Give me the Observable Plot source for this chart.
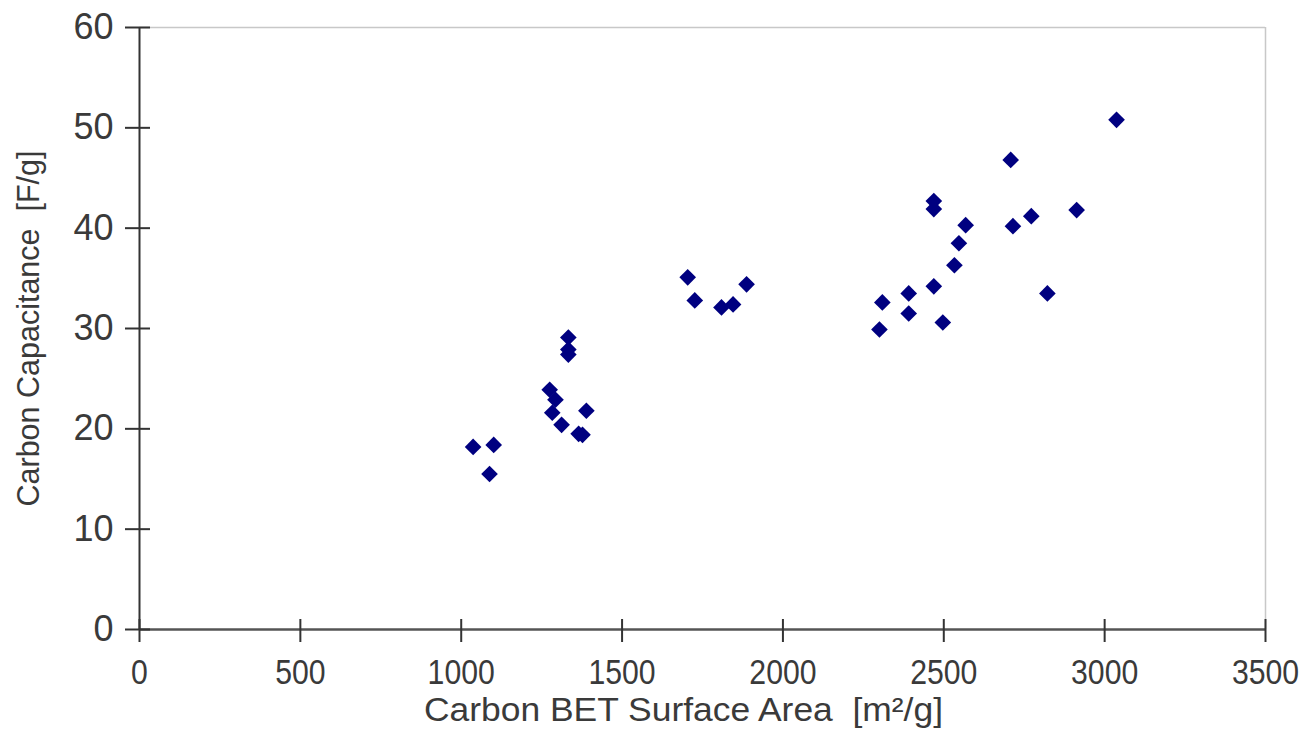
<!DOCTYPE html>
<html><head><meta charset="utf-8">
<script src="https://cdn.jsdelivr.net/npm/d3@7"></script>
<script src="https://cdn.jsdelivr.net/npm/@observablehq/plot@0.6"></script>
<style>body{margin:0;background:#fff}</style>
</head><body><div id="chart"></div>
<script>
const surfaceArea = [1037, 1101, 1088, 1333, 1333, 1333, 1275, 1293, 1283, 1312, 1389, 1365, 1377,
  1704, 1726, 1809, 1845, 1887, 2309, 2300, 2391, 2391, 2469, 2469, 2568, 2547, 2533, 2469, 2497,
  2715, 2772, 2913, 2822, 2708, 3037];
const capacitance = [18.2, 18.4, 15.5, 29.1, 27.9, 27.4, 23.9, 22.9, 21.6, 20.4, 21.8, 19.5, 19.4,
  35.1, 32.8, 32.1, 32.4, 34.4, 32.6, 29.9, 33.5, 31.5, 42.7, 41.9, 40.3, 38.5, 36.3, 34.2, 30.6,
  40.2, 41.2, 41.8, 33.5, 46.8, 50.8];
const xTicks = [0, 500, 1000, 1500, 2000, 2500, 3000, 3500];
const yTicks = [0, 10, 20, 30, 40, 50, 60];
const xTitle = "Carbon BET Surface Area  [m²/g]";
const yTitle = "Carbon Capacitance  [F/g]";

const data = surfaceArea.map((x, i) => ({x, y: capacitance[i]}));

const chart = Plot.plot({
  width: 1316, height: 755,
  marginLeft: 139, marginRight: 51, marginTop: 27, marginBottom: 126,
  style: {fontFamily: "'Liberation Sans', Arial, sans-serif", fontSize: "30px", color: "#3a3a3a", background: "#fff"},
  x: {domain: [0, 3500]},
  y: {domain: [0, 60]},
  marks: [
    Plot.ruleY([60], {stroke: "#c8c8c8", strokeWidth: 1.5}),
    Plot.ruleX([3500], {stroke: "#c8c8c8", strokeWidth: 1.5}),
    Plot.ruleY([0], {stroke: "#555", strokeWidth: 2.5}),
    Plot.ruleX([0], {stroke: "#333", strokeWidth: 2}),
    Plot.axisX({ticks: xTicks, tickSize: 23, dy: -10, tickFormat: () => "", stroke: "#333", strokeWidth: 2, label: null}),
    Plot.axisX({ticks: xTicks, tickSize: 0, tickPadding: 30, tickFormat: d => String(d), fill: "#3a3a3a", fontSize: 35, label: null, className: "xlab"}),
    Plot.axisY({ticks: yTicks, tickSize: 25, dx: 11, tickFormat: () => "", stroke: "#333", strokeWidth: 2, label: null}),
    Plot.axisY({ticks: yTicks, tickSize: 0, tickPadding: 26, tickFormat: d => String(d), fill: "#3a3a3a", fontSize: 36, label: null}),
    Plot.dot(data, {x: "x", y: "y", symbol: "diamond2", r: 7.5, fill: "#000080", stroke: null}),
    Plot.text([xTitle], {text: d => d, frameAnchor: "bottom", dy: 67, dx: -19, lineAnchor: "top", fontSize: 34, fill: "#3a3a3a", className: "xtitle"}),
    Plot.text([yTitle], {text: d => d, frameAnchor: "left", rotate: -90, dx: -123, textAnchor: "middle", lineAnchor: "top", fontSize: 32, fill: "#3a3a3a", className: "ytitle"})
  ]
});
document.getElementById("chart").appendChild(chart);
d3.select(chart).selectAll(".xtitle text").attr("textLength", 519).attr("lengthAdjust", "spacingAndGlyphs");
d3.select(chart).selectAll(".ytitle text").attr("textLength", 356).attr("lengthAdjust", "spacingAndGlyphs");
d3.select(chart).selectAll(".xlab text").each(function() {
  const n = this.textContent.length;
  if (n > 0) d3.select(this).attr("textLength", n * 16.8).attr("lengthAdjust", "spacingAndGlyphs");
});
</script>
</body></html>
